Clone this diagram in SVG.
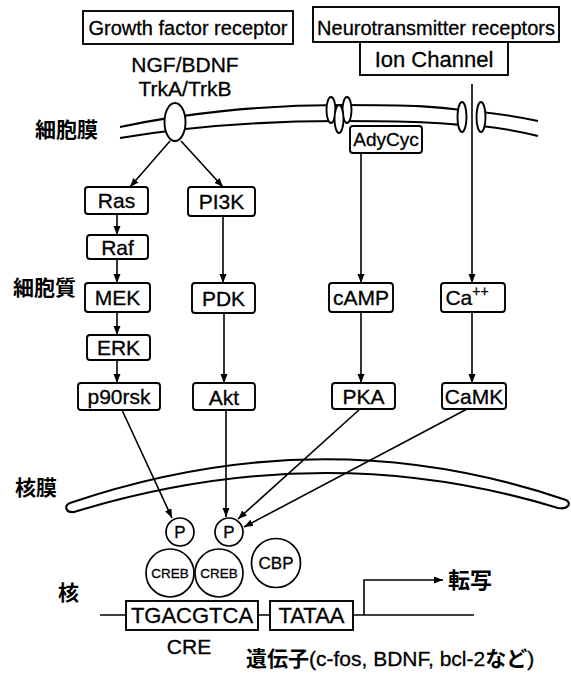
<svg xmlns="http://www.w3.org/2000/svg" width="571" height="675" viewBox="0 0 571 675">
<style>
.lt{font-family:"Liberation Sans",Arial,sans-serif;fill:#000;stroke:#000;stroke-width:0.3}
.jp{font-family:"Noto Sans CJK JP",sans-serif;font-weight:bold;fill:#000;stroke:none}
.box{fill:#fff;stroke:#000;stroke-width:1.9}
.rb{fill:#fff;stroke:#000;stroke-width:1.9}
.ln{fill:none;stroke:#000;stroke-width:1.6}
.mem{fill:none;stroke:#000;stroke-width:2.1}
.ell{fill:#fff;stroke:#000;stroke-width:1.9}
.circ{fill:#fff;stroke:#000;stroke-width:1.7}
</style>
<defs>
<marker id="ah" markerUnits="userSpaceOnUse" markerWidth="10" markerHeight="8" refX="9" refY="3.5" orient="auto">
<path d="M0,0 L9,3.5 L0,7 z" fill="#000"/>
</marker>
</defs>
<rect width="571" height="675" fill="#fff"/>

<g id="labels">
<text class="jp" x="35" y="137" font-size="21">細胞膜</text>
<text class="jp" x="13" y="295" font-size="21">細胞質</text>
<text class="jp" x="15" y="495" font-size="21">核膜</text>
<text class="jp" x="58" y="600" font-size="21">核</text>
</g>

<g id="growth-factor-receptor">
<rect class="box" x="83" y="11" width="210" height="33"/>
<text class="lt" x="188" y="35" font-size="20" text-anchor="middle">Growth factor receptor</text>
</g>
<g id="neurotransmitter-receptors">
<rect class="box" x="313" y="7" width="246" height="35"/>
<text class="lt" x="436" y="35" font-size="20" text-anchor="middle">Neurotransmitter receptors</text>
</g>
<g id="ion-channel">
<rect class="box" x="360" y="42" width="148" height="33"/>
<text class="lt" x="434" y="67" font-size="22" text-anchor="middle">Ion Channel</text>
</g>
<g id="ngf">
<text class="lt" x="185" y="72" font-size="21" text-anchor="middle">NGF/BDNF</text>
<text class="lt" x="185" y="96" font-size="21" text-anchor="middle">TrkA/TrkB</text>
</g>

<g id="cell-membrane">
<path class="mem" d="M120 127 C180 114 260 105 340 105 S440 107 462 110"/>
<path class="mem" d="M481 112 Q510 115 538 121"/>
<path class="mem" d="M120 138 C180 128 260 121 340 121 S440 123 462 125"/>
<path class="mem" d="M481 126 Q510 129 538 136"/>
</g>
<g id="trk">
<ellipse class="ell" cx="175" cy="122" rx="10.5" ry="19"/>
</g>
<g id="adycyc-channel">
<ellipse class="ell" cx="331" cy="110" rx="4.5" ry="13"/>
<ellipse class="ell" cx="347" cy="110" rx="4.5" ry="13"/>
<ellipse class="ell" cx="339" cy="119" rx="4.5" ry="14"/>
</g>
<g id="ion-channel-pore">
<ellipse class="ell" cx="462" cy="117" rx="4.5" ry="15"/>
<ellipse class="ell" cx="481" cy="117" rx="4.5" ry="15"/>
</g>

<g id="connectors">
<line class="ln" x1="170" y1="141" x2="130" y2="187" marker-end="url(#ah)"/>
<line class="ln" x1="181" y1="141" x2="223" y2="187" marker-end="url(#ah)"/>
<line class="ln" x1="472" y1="84" x2="472" y2="283" marker-end="url(#ah)"/>
<line class="ln" x1="361" y1="153" x2="361" y2="283" marker-end="url(#ah)"/>
<line class="ln" x1="117" y1="214" x2="117" y2="235" marker-end="url(#ah)"/>
<line class="ln" x1="117" y1="259" x2="117" y2="283" marker-end="url(#ah)"/>
<line class="ln" x1="117" y1="312" x2="117" y2="335" marker-end="url(#ah)"/>
<line class="ln" x1="117" y1="360" x2="117" y2="383" marker-end="url(#ah)"/>
<line class="ln" x1="223" y1="216" x2="223" y2="283" marker-end="url(#ah)"/>
<line class="ln" x1="224" y1="313" x2="224" y2="383" marker-end="url(#ah)"/>
<line class="ln" x1="361" y1="312" x2="361" y2="383" marker-end="url(#ah)"/>
<line class="ln" x1="472" y1="312" x2="472" y2="383" marker-end="url(#ah)"/>
<line class="ln" x1="122" y1="410" x2="172" y2="518" marker-end="url(#ah)"/>
<line class="ln" x1="226" y1="410" x2="226" y2="517" marker-end="url(#ah)"/>
<line class="ln" x1="360" y1="409" x2="238" y2="519" marker-end="url(#ah)"/>
<line class="ln" x1="467" y1="409" x2="244" y2="527" marker-end="url(#ah)"/>
<path class="ln" d="M364 615 V580 H443" marker-end="url(#ah)"/>
</g>

<g id="adycyc"><rect class="rb" x="350" y="126" width="72" height="27" rx="3"/><text class="lt" x="386" y="146" font-size="19" text-anchor="middle">AdyCyc</text></g>
<g id="ras"><rect class="rb" x="85" y="187" width="63" height="27" rx="3"/><text class="lt" x="116.5" y="208" font-size="21" text-anchor="middle">Ras</text></g>
<g id="pi3k"><rect class="rb" x="188" y="187" width="67" height="29" rx="3"/><text class="lt" x="221.5" y="209" font-size="21" text-anchor="middle">PI3K</text></g>
<g id="raf"><rect class="rb" x="87" y="235" width="61" height="24" rx="3"/><text class="lt" x="117.5" y="255" font-size="21" text-anchor="middle">Raf</text></g>
<g id="mek"><rect class="rb" x="85" y="283" width="65" height="29" rx="3"/><text class="lt" x="117.5" y="305" font-size="21" text-anchor="middle">MEK</text></g>
<g id="erk"><rect class="rb" x="87" y="335" width="63" height="25" rx="3"/><text class="lt" x="118.5" y="355" font-size="21" text-anchor="middle">ERK</text></g>
<g id="p90rsk"><rect class="rb" x="78" y="383" width="82" height="27" rx="3"/><text class="lt" x="119" y="404" font-size="21" text-anchor="middle">p90rsk</text></g>
<g id="pdk"><rect class="rb" x="192" y="283" width="63" height="30" rx="3"/><text class="lt" x="223.5" y="306" font-size="21" text-anchor="middle">PDK</text></g>
<g id="akt"><rect class="rb" x="193" y="383" width="62" height="27" rx="3"/><text class="lt" x="224" y="405" font-size="21" text-anchor="middle">Akt</text></g>
<g id="camp"><rect class="rb" x="329" y="283" width="64" height="29" rx="3"/><text class="lt" x="361" y="305" font-size="21" text-anchor="middle">cAMP</text></g>
<g id="ca"><rect class="rb" x="441" y="283" width="64" height="29" rx="3"/><text class="lt" x="467" y="305" font-size="21" text-anchor="middle">Ca<tspan font-size="14" dy="-9">++</tspan></text></g>
<g id="pka"><rect class="rb" x="332" y="383" width="63" height="26" rx="3"/><text class="lt" x="363.5" y="404" font-size="21" text-anchor="middle">PKA</text></g>
<g id="camk"><rect class="rb" x="442" y="383" width="64" height="26" rx="3"/><text class="lt" x="474" y="404" font-size="21" text-anchor="middle">CaMK</text></g>

<g id="nuclear-membrane">
<path class="mem" d="M74 512 Q323 436 558 508 C568 510 572 503 566 500 Q323 417 70 503 C64 505 65 513 74 512 Z"/>
</g>

<g id="p1"><circle class="circ" cx="180" cy="532" r="14"/><text class="lt" x="180" y="538" font-size="17" text-anchor="middle">P</text></g>
<g id="p2"><circle class="circ" cx="229" cy="532" r="14"/><text class="lt" x="229" y="538" font-size="17" text-anchor="middle">P</text></g>
<g id="creb1"><circle class="circ" cx="170" cy="573" r="24"/><text class="lt" x="170" y="578" font-size="13.5" text-anchor="middle">CREB</text></g>
<g id="creb2"><circle class="circ" cx="219" cy="573" r="24"/><text class="lt" x="219" y="578" font-size="13.5" text-anchor="middle">CREB</text></g>
<g id="cbp"><circle class="circ" cx="276" cy="563" r="24.5"/><text class="lt" x="276" y="569" font-size="17" text-anchor="middle">CBP</text></g>

<g id="dna">
<line class="ln" x1="100" y1="615" x2="474" y2="615"/>
</g>
<g id="cre-box"><rect class="box" x="126" y="601" width="132" height="29"/><text class="lt" x="192" y="623" font-size="22" text-anchor="middle">TGACGTCA</text></g>
<g id="tataa"><rect class="box" x="270" y="601" width="83" height="29"/><text class="lt" x="311.5" y="623" font-size="22" text-anchor="middle">TATAA</text></g>
<text class="lt" x="189" y="654" font-size="21" text-anchor="middle">CRE</text>
<text class="jp" x="448" y="588" font-size="22">転写</text>
<text class="lt" x="246" y="666" font-size="21"><tspan class="jp">遺伝子</tspan>(c-fos, BDNF, bcl-2<tspan class="jp">など</tspan>)</text>
</svg>
